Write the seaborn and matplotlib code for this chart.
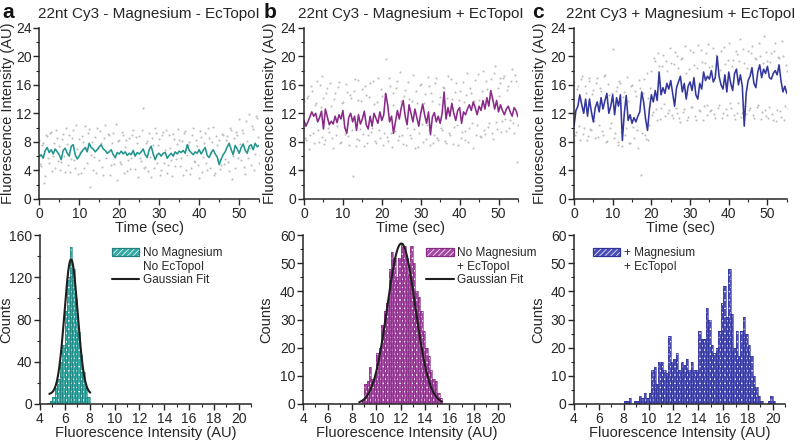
import numpy as np
import pandas as pd
import seaborn as sns
import matplotlib.pyplot as plt
from matplotlib.patches import Patch
from matplotlib.lines import Line2D
from matplotlib.ticker import MultipleLocator

# ---------------- data ----------------
time = np.arange(0, 55.01, 0.5)          # sample times of smoothed traces (s)
time_dots = time + 0.25                   # offset sample times for raw dots

trace_a = [5.9, 6.2, 5.7, 6.8, 7.2, 6.5, 6.9, 6.3, 7.0, 6.6, 6.2,
           5.5, 6.8, 7.1, 6.4, 6.0, 7.4, 7.6, 6.2, 5.6, 6.0,
           6.5, 6.9, 7.2, 6.6, 7.8, 7.2, 7.0, 6.6, 6.9, 7.3,
           7.6, 7.0, 6.8, 6.4, 6.6, 6.9, 6.2, 5.8, 6.5, 6.3,
           6.7, 6.3, 6.6, 6.1, 6.4, 6.2, 6.8, 6.0, 6.5, 6.3,
           6.6, 7.0, 6.2, 5.8, 6.9, 7.4, 6.3, 5.5, 6.2, 6.4,
           6.0, 6.4, 6.5, 5.7, 6.1, 6.4, 6.0, 6.6, 6.3, 6.7,
           6.5, 6.8, 6.4, 7.6, 6.8, 6.5, 6.2, 6.6, 6.4, 6.9,
           6.3, 6.8, 7.2, 6.1, 5.8, 6.5, 6.9, 6.3, 5.9, 4.8,
           5.6, 6.2, 6.6, 7.3, 7.8, 6.9, 6.2, 7.5, 7.0, 6.4,
           7.2, 7.7, 6.8, 6.4, 7.4, 7.6, 6.9, 7.8, 7.3, 7.5]

trace_b = [11.0, 10.2, 10.8, 11.5, 12.2, 11.6, 12.0, 10.8, 11.4, 12.3, 9.8,
           12.6, 11.5, 10.4, 10.9, 10.5, 11.6, 10.7, 11.8, 11.2, 12.4,
           10.0, 9.2, 11.4, 12.0, 10.8, 11.6, 9.6, 11.8, 10.5, 11.2,
           12.3, 10.4, 9.8, 11.6, 10.2, 12.0, 11.3, 10.6, 12.2, 11.0,
           11.8, 14.8, 13.2, 10.8, 11.6, 9.2, 10.8, 12.4, 11.2, 12.8,
           13.8, 11.6, 10.4, 13.2, 12.0, 10.8, 12.6, 11.4, 10.2, 12.0,
           13.3, 11.8, 10.6, 12.2, 9.0, 11.5, 12.1, 10.8, 11.6, 10.6,
           12.0, 15.0, 11.2, 12.8, 11.6, 13.4, 12.0, 11.0, 12.4, 12.8,
           10.6, 12.2, 11.8, 12.6, 13.2, 12.4, 13.6, 12.8, 11.8, 13.0,
           12.4, 13.8, 12.6, 14.2, 13.0, 15.2, 14.0, 12.6, 13.8, 12.2,
           13.2, 12.4, 11.8, 12.6, 13.0, 12.2, 11.6, 12.8, 12.4, 11.5]

trace_c = [10.2, 12.4, 13.0, 14.6, 13.2, 12.0, 14.0, 11.6, 14.0, 12.2, 10.8,
           12.8, 13.6, 12.2, 14.2, 12.6, 13.8, 14.8, 12.0, 13.0, 14.6,
           11.8, 14.2, 13.0, 14.6, 8.2, 12.0, 14.5, 11.0, 11.8, 10.6,
           11.4, 10.8, 11.6, 12.2, 15.0, 13.6, 11.2, 9.6, 12.6, 14.6,
           13.6, 15.2, 13.8, 17.8, 14.6, 15.6, 14.8, 16.2, 15.4, 16.6,
           14.8, 13.0, 15.6, 16.4, 17.2, 15.0, 16.2, 14.0, 15.8, 16.4,
           15.2, 17.0, 14.6, 14.0, 16.2, 15.4, 17.8, 16.6, 17.2, 16.8,
           18.0, 16.4, 17.0, 20.0, 17.2, 16.0, 15.4, 17.4, 15.0, 17.8,
           16.2, 15.2, 17.6, 18.2, 16.0, 17.4, 15.8, 10.2, 14.8, 16.6,
           17.2, 18.4, 16.2, 15.6, 17.8, 18.8, 17.0, 18.2, 17.6, 18.6,
           17.0, 16.8, 17.6, 18.0, 17.4, 18.8, 16.6, 15.0, 15.8, 14.8]

dots_a1 = [8.2, 4.6, 7.9, 3.2, 8.8, 5.1, 9.4, 6.0, 4.3, 8.6, 7.4,
           5.2, 9.1, 3.8, 7.7, 8.9, 5.6, 9.6, 4.4, 7.0, 8.4,
           3.6, 8.0, 10.2, 5.0, 9.8, 6.2, 4.0, 8.7, 9.9, 5.4,
           7.8, 3.4, 10.4, 6.6, 8.9, 4.8, 9.2, 5.9, 2.6, 8.3,
           4.9, 9.0, 7.3, 3.9, 8.6, 5.7, 9.7, 4.2, 7.9, 8.8,
           5.3, 12.8, 4.5, 8.1, 9.3, 3.1, 7.5, 10.0, 5.0, 8.4,
           4.1, 9.4, 6.8, 3.7, 8.9, 5.5, 9.1, 4.6, 7.7, 8.2,
           5.8, 3.3, 9.5, 6.1, 8.0, 4.4, 9.9, 5.2, 7.4, 3.0,
           8.7, 5.9, 9.2, 4.0, 8.5, 6.4, 10.1, 3.6, 7.6, 8.3,
           4.8, 9.0, 5.6, 8.8, 3.9, 9.6, 6.0, 4.3, 8.9, 11.2,
           5.4, 9.3, 3.5, 8.1, 11.9, 4.7, 9.8, 6.3, 11.4, 5.1]
dots_a2 = [4.9, 7.6, 2.2, 8.9, 5.8, 9.2, 3.9, 7.9, 9.7, 5.3, 4.1,
           8.4, 6.0, 9.9, 4.7, 3.8, 8.5, 5.4, 10.3, 3.5, 6.6,
           8.8, 4.3, 7.2, 9.3, 1.6, 8.0, 5.9, 3.6, 7.1, 9.5,
           4.5, 8.6, 5.7, 9.1, 3.3, 7.8, 4.9, 10.5, 8.1, 5.2,
           9.4, 3.7, 8.3, 5.5, 4.2, 9.0, 6.3, 8.7, 3.1, 5.8,
           9.6, 4.4, 7.9, 3.9, 5.9, 8.6, 4.3, 9.2, 7.5, 3.4,
           8.9, 5.0, 9.7, 4.8, 7.2, 3.2, 8.4, 5.6, 9.8, 4.6,
           8.1, 9.3, 4.0, 7.6, 3.5, 9.0, 5.3, 8.2, 4.7, 9.5,
           3.8, 7.8, 5.1, 9.9, 4.4, 8.0, 3.3, 8.8, 5.5, 4.2,
           9.1, 4.9, 8.3, 5.2, 10.0, 2.8, 8.6, 9.4, 5.7, 7.7,
           9.7, 4.5, 10.9, 5.8, 7.1, 10.2, 4.1, 11.6, 8.7, 6.2]

dots_b1 = [13.8, 8.2, 14.5, 9.0, 15.2, 7.8, 13.4, 9.6, 16.0, 8.7, 14.1,
           8.3, 15.6, 9.4, 13.0, 7.2, 14.8, 10.2, 16.4, 8.0, 13.6,
           9.1, 15.0, 7.6, 14.2, 3.2, 16.8, 8.4, 13.9, 9.8, 15.4,
           7.4, 14.6, 8.9, 16.2, 10.0, 13.3, 7.9, 17.0, 8.6, 14.4,
           9.2, 19.6, 8.1, 15.8, 7.3, 14.9, 9.5, 16.6, 8.8, 13.7,
           7.7, 15.3, 9.9, 14.0, 8.5, 17.4, 7.1, 13.5, 9.3, 16.1,
           8.0, 14.7, 10.4, 15.9, 7.5, 13.8, 9.0, 16.9, 8.3, 14.3,
           9.7, 15.5, 7.8, 17.2, 8.9, 14.0, 10.1, 16.3, 7.6, 15.1,
           9.4, 13.6, 8.2, 17.6, 9.9, 14.8, 7.2, 16.7, 10.3, 13.9,
           8.7, 17.9, 9.1, 15.4, 10.6, 16.8, 8.4, 18.6, 9.8, 14.5,
           16.2, 10.9, 17.3, 9.5, 15.8, 11.0, 18.2, 9.2, 16.6, 10.4]
dots_b2 = [8.6, 14.2, 7.0, 15.8, 9.2, 13.2, 16.6, 8.0, 12.9, 17.2, 7.7,
           14.9, 9.9, 16.3, 8.5, 14.0, 9.0, 15.7, 7.9, 13.4, 10.1,
           16.1, 8.8, 14.6, 9.6, 15.2, 7.4, 16.7, 8.3, 13.8, 9.1,
           15.9, 7.8, 14.3, 9.4, 16.5, 8.1, 13.6, 9.7, 15.4, 7.6,
           14.7, 8.7, 16.9, 9.3, 13.1, 10.2, 15.6, 8.2, 17.8, 9.0,
           14.4, 7.5, 16.4, 8.9, 13.7, 9.8, 15.1, 7.3, 16.0, 10.5,
           13.5, 8.4, 17.1, 9.6, 14.8, 7.9, 16.2, 8.6, 13.3, 10.0,
           15.7, 8.1, 14.1, 9.2, 16.8, 7.7, 15.0, 10.3, 13.9, 8.5,
           16.4, 9.5, 14.6, 8.0, 15.5, 10.7, 13.8, 9.0, 17.5, 8.8,
           15.2, 9.7, 16.6, 10.1, 14.2, 9.3, 17.7, 10.8, 15.6, 16.9,
           9.4, 17.0, 11.2, 15.3, 9.9, 16.5, 10.6, 17.4, 5.2, 15.9]

dots_c1 = [16.4, 9.4, 15.8, 8.2, 17.2, 10.0, 14.9, 8.8, 16.6, 9.6, 15.3,
           8.5, 16.9, 10.3, 15.1, 9.0, 17.4, 8.1, 14.6, 10.6, 21.0,
           9.2, 15.7, 8.0, 16.3, 7.4, 15.0, 9.9, 13.8, 7.8, 16.0,
           8.6, 14.4, 7.2, 15.5, 9.3, 16.8, 8.4, 14.2, 10.4, 18.0,
           12.2, 19.4, 11.0, 18.6, 12.8, 20.2, 11.6, 17.9, 12.4, 19.0,
           11.3, 20.6, 12.0, 18.3, 10.8, 19.7, 12.6, 17.6, 11.5, 20.9,
           12.9, 18.8, 11.1, 21.6, 12.3, 19.2, 13.0, 20.4, 11.8, 18.5,
           12.5, 21.2, 11.4, 19.9, 13.2, 20.8, 12.1, 18.9, 11.7, 21.9,
           12.7, 19.5, 11.2, 20.3, 13.4, 22.4, 12.0, 19.1, 11.9, 20.7,
           12.8, 21.4, 11.3, 19.6, 13.1, 20.0, 12.2, 22.8, 11.6, 19.3,
           12.9, 20.5, 11.0, 21.8, 12.4, 19.8, 11.5, 20.1, 13.0, 17.9]
dots_c2 = [8.9, 15.4, 10.2, 16.8, 9.1, 15.9, 8.3, 17.0, 9.8, 14.7, 10.9,
           16.2, 8.7, 15.5, 9.5, 17.3, 8.0, 16.1, 9.9, 14.8, 8.6,
           15.1, 7.6, 16.5, 9.4, 14.3, 8.9, 17.1, 7.9, 15.8, 10.1,
           15.2, 9.7, 16.7, 3.3, 14.9, 9.0, 17.6, 8.2, 15.6, 11.8,
           19.8, 12.6, 20.5, 11.2, 18.7, 13.3, 19.4, 12.0, 21.1, 11.7,
           18.9, 12.7, 20.0, 11.4, 19.6, 12.2, 21.5, 11.1, 18.2, 12.9,
           20.6, 11.6, 18.4, 12.5, 20.9, 11.0, 19.0, 13.1, 21.7, 12.3,
           18.6, 11.9, 20.2, 12.8, 18.1, 11.3, 21.3, 12.6, 19.5, 13.5,
           18.7, 11.8, 20.8, 12.1, 19.3, 11.5, 21.0, 13.0, 18.3, 12.4,
           20.4, 11.7, 19.7, 12.9, 21.8, 11.2, 19.0, 12.5, 20.6, 11.4,
           19.2, 11.9, 20.7, 10.9, 19.9, 12.3, 22.2, 11.1, 18.8, 12.7]

# histogram counts (bin width 0.2 AU); first bin centre given
hist_a_start = 4.7
hist_a_counts = [1, 3, 7, 15, 24, 40, 56, 88, 120, 149, 128, 100, 68, 46, 30, 16, 7]
hist_b_start = 8.9
hist_b_counts = [1, 7, 8, 13, 9, 10, 18, 20, 28, 33, 36, 48, 54, 52, 45, 52, 57,
                 56, 52, 46, 56, 50, 40, 38, 33, 26, 20, 17, 12, 9, 8, 4, 2]
hist_c_start = 8.1
hist_c_counts = [1, 1, 2, 0, 1, 1, 3, 2, 4, 2,
                 4, 12, 13, 7, 15, 15, 12, 11, 24, 15,
                 16, 18, 12, 15, 14, 16, 12, 15, 12, 12,
                 26, 23, 23, 34, 30, 21, 18, 20, 26, 36,
                 42, 31, 48, 32, 20, 26, 17, 26, 31, 25,
                 21, 17, 10, 6, 3, 1, 0, 0, 1, 3, 1]
bin_width = 0.2

# Gaussian fit parameters (y0, A, xc, sigma, x range)
fit_a = (9.0, 128.0, 6.5, 0.53, 4.75, 8.05)
fit_b = (0.0, 57.0, 12.05, 1.15, 8.6, 15.4)

titles = ["22nt Cy3 - Magnesium - EcTopoI",
          "22nt Cy3 - Magnesium + EcTopoI",
          "22nt Cy3 + Magnesium + EcTopoI"]
letters = ["a", "b", "c"]
legend_labels = [("No Magnesium", "No EcTopoI"),
                 ("No Magnesium", "+ EcTopoI"),
                 ("+ Magnesium", "+ EcTopoI")]
fit_label = "Gaussian Fit"

# ---------------- style ----------------
sns.set_theme(style="ticks")
plt.rcParams['font.family'] = ['Liberation Sans', 'DejaVu Sans']
plt.rcParams['hatch.linewidth'] = 0.5
txt = '#262626'
plt.rcParams.update({'text.color': txt, 'axes.labelcolor': txt,
                     'xtick.color': txt, 'ytick.color': txt,
                     'axes.edgecolor': txt})

line_cols = ['#23958f', '#8a2a88', '#33379c']
fill_cols = ['#36aaa5', '#a548a3', '#4b4fb6']
edge_cols = ['#22817c', '#842c82', '#30329a']
dot_col = '#bcbcbc'

fig = plt.figure(figsize=(8.0, 4.41), dpi=100)
top_pos = [[0.049, 0.549, 0.275, 0.388],
           [0.380, 0.549, 0.2675, 0.388],
           [0.7175, 0.549, 0.266, 0.388]]
bot_pos = [[0.050, 0.084, 0.264, 0.383],
           [0.379, 0.084, 0.259, 0.383],
           [0.7175, 0.084, 0.264, 0.383]]
top_ylab_x = [-0.109, -0.126, -0.127]
bot_ylab_x = [-0.128, -0.145, -0.137]

traces = [trace_a, trace_b, trace_c]
dots1 = [dots_a1, dots_b1, dots_c1]
dots2 = [dots_a2, dots_b2, dots_c2]
hist_starts = [hist_a_start, hist_b_start, hist_c_start]
hist_counts = [hist_a_counts, hist_b_counts, hist_c_counts]
fits = [fit_a, fit_b, None]
hist_ymax = [160, 60, 60]
hist_ymaj = [40, 10, 10]
hist_ymin = [20, 5, 5]
legend_x = [0.34, 0.595, 0.09]
letter_x = [0.003, 0.329, 0.665]


def style_axes(ax):
    sns.despine(ax=ax)
    for s in ('left', 'bottom'):
        ax.spines[s].set_linewidth(1.1)
    ax.tick_params(which='major', direction='out', length=4, width=1.0,
                   labelsize=10, pad=1.5)
    ax.tick_params(which='minor', direction='out', length=2.3, width=0.8)
    ax.set_facecolor('white')


for i in range(3):
    # ---- top: time trace ----
    ax = fig.add_axes(top_pos[i])
    df_dots = pd.DataFrame({'t': np.concatenate([time, time_dots]),
                            'v': np.concatenate([dots1[i], dots2[i]])})
    sns.scatterplot(data=df_dots, x='t', y='v', s=2.2, color=dot_col,
                    linewidth=0, ax=ax, zorder=1)
    df_tr = pd.DataFrame({'t': time, 'v': traces[i]})
    sns.lineplot(data=df_tr, x='t', y='v', color=line_cols[i], lw=1.15,
                 ax=ax, zorder=2)
    ax.set_xlim(0, 55)
    ax.set_ylim(0, 24)
    ax.xaxis.set_major_locator(MultipleLocator(10))
    ax.xaxis.set_minor_locator(MultipleLocator(5))
    ax.yaxis.set_major_locator(MultipleLocator(4))
    ax.yaxis.set_minor_locator(MultipleLocator(2))
    style_axes(ax)
    ax.set_xlabel("Time (sec)", fontsize=10.5, labelpad=0)
    ax.set_ylabel("Fluorescence Intensity (AU)", fontsize=10.5)
    ax.yaxis.set_label_coords(top_ylab_x[i], 0.5)
    ax.set_title(titles[i], fontsize=11, pad=7)
    fig.text(letter_x[i], 0.972, letters[i], fontsize=15, fontweight='bold',
             va='center', ha='left', color='#111111')

    # ---- bottom: histogram ----
    axh = fig.add_axes(bot_pos[i])
    counts = hist_counts[i]
    centres = hist_starts[i] + bin_width * np.arange(len(counts))
    edges = [float(e) for e in np.append(centres - bin_width / 2,
                                         centres[-1] + bin_width / 2)]
    dfh = pd.DataFrame({'x': centres, 'w': counts})
    sns.histplot(data=dfh, x='x', weights='w', bins=edges, ax=axh,
                 color=fill_cols[i], edgecolor='white', linewidth=0,
                 hatch='....', alpha=1, zorder=1)
    sns.histplot(data=dfh, x='x', weights='w', bins=edges, ax=axh,
                 fill=False, color=edge_cols[i], linewidth=0.45, zorder=2)
    handles = [(Patch(facecolor=fill_cols[i], edgecolor='white', hatch='//////', lw=0),
                Patch(facecolor='none', edgecolor=edge_cols[i], lw=0.9)),
               Line2D([], [], lw=0)]
    labels = list(legend_labels[i])
    if fits[i] is not None:
        y0, A, xc, sg, x0, x1 = fits[i]
        xs = np.linspace(x0, x1, 200)
        ys = y0 + A * np.exp(-(xs - xc) ** 2 / (2 * sg ** 2))
        sns.lineplot(x=xs, y=ys, color='#1e1e1e', lw=1.5, ax=axh, zorder=3)
        handles.append(Line2D([], [], color='#1e1e1e', lw=1.5))
        labels.append(fit_label)
    axh.set_xlim(4, 21)
    axh.set_ylim(0, hist_ymax[i])
    axh.xaxis.set_major_locator(MultipleLocator(2))
    axh.xaxis.set_minor_locator(MultipleLocator(1))
    axh.yaxis.set_major_locator(MultipleLocator(hist_ymaj[i]))
    axh.yaxis.set_minor_locator(MultipleLocator(hist_ymin[i]))
    style_axes(axh)
    axh.set_xlabel("Fluorescence Intensity (AU)", fontsize=10.5, labelpad=0)
    axh.set_ylabel("Counts", fontsize=10.5)
    axh.yaxis.set_label_coords(bot_ylab_x[i], 0.5)
    leg = axh.legend(handles, labels, loc='upper left',
                     bbox_to_anchor=(legend_x[i], 0.93), frameon=False,
                     fontsize=8.5, handlelength=2.3, handletextpad=0.3,
                     labelspacing=0.15, borderpad=0, borderaxespad=0)

fig.savefig("out.png", dpi=100)
